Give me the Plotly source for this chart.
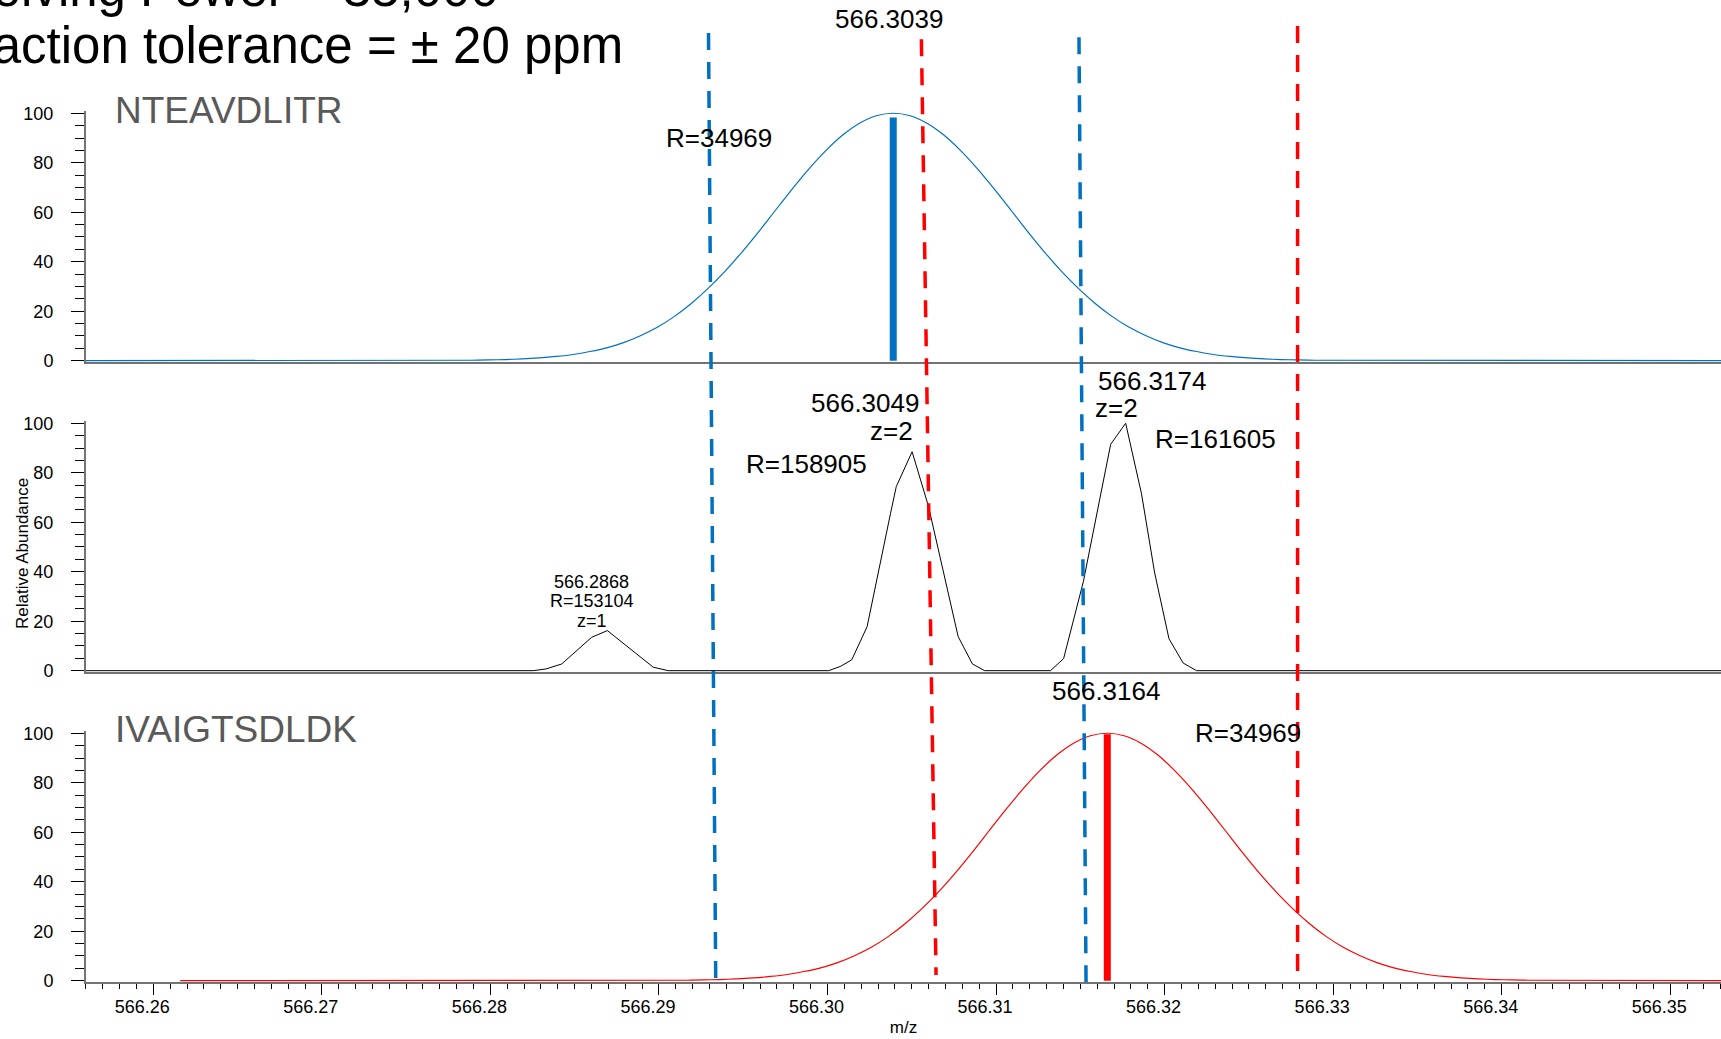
import plotly.graph_objects as go

# ---------------- data ----------------
X_RANGE = [566.256007, 566.353011]
X_TICK0 = 566.26

# Top panel: theoretical profile of NTEAVDLITR (R=34969)
NTE_MZ = [566.2560,
          566.2789, 566.2799, 566.2809, 566.2819, 566.2829, 566.2839, 566.2849, 566.2859,
          566.2869, 566.2879, 566.2889, 566.2899, 566.2909, 566.2919, 566.2929, 566.2939,
          566.2949, 566.2959, 566.2969, 566.2979, 566.2989, 566.2999, 566.3009, 566.3019,
          566.3029, 566.3039, 566.3049, 566.3059, 566.3069, 566.3079, 566.3089, 566.3099,
          566.3109, 566.3119, 566.3129, 566.3139, 566.3149, 566.3159, 566.3169, 566.3179,
          566.3189, 566.3199, 566.3209, 566.3219, 566.3229, 566.3239, 566.3249, 566.3259,
          566.3269, 566.3279, 566.3289,
          566.3540]
NTE_INT = [0,
           0.17, 0.28, 0.45, 0.7, 1.1, 1.7, 2.5, 3.7,
           5.2, 7.3, 10.1, 13.5, 17.8, 23.0, 29.1, 36.0,
           43.7, 52.0, 60.7, 69.3, 77.5, 84.9, 91.2, 96.0,
           99.0, 100, 99.0, 96.0, 91.2, 84.9, 77.5, 69.3,
           60.7, 52.0, 43.7, 36.0, 29.1, 23.0, 17.8, 13.5,
           10.1, 7.3, 5.2, 3.7, 2.5, 1.7, 1.1, 0.7,
           0.45, 0.28, 0.17,
           0]
NTE_CENTROID = 566.3039
NTE_BAR = 98.3

# Middle panel: observed spectrum
OBS_MZ = [566.2560, 566.28255, 566.28330, 566.28423, 566.28601, 566.28694, 566.28966, 566.29055,
          566.30007, 566.30079, 566.30144, 566.30235, 566.30374, 566.30408, 566.30502, 566.30600,
          566.30775, 566.30860, 566.30932,
          566.31323, 566.31401, 566.31518, 566.31680, 566.31769, 566.31863, 566.31941, 566.32026,
          566.32110, 566.32189, 566.3540]
OBS_INT = [0, 0, 0.7, 2.7, 13.5, 16.2, 1.4, 0,
           0, 1.8, 4.4, 17.8, 63.6, 74.4, 88.5, 66.2,
           13.8, 2.7, 0,
           0, 4.9, 36.0, 91.5, 100, 71.5, 39.5, 12.9,
           3.1, 0, 0]

# Bottom panel: theoretical profile of IVAIGTSDLDK (R=34969), as drawn
IVA_MZ = [566.2616,
          566.2916, 566.2926, 566.2936, 566.2946, 566.2956, 566.2966, 566.2976, 566.2986,
          566.2996, 566.3006, 566.3016, 566.3026, 566.3036, 566.3046, 566.3056, 566.3066,
          566.3076, 566.3086, 566.3096, 566.3106, 566.3116, 566.3126, 566.3136, 566.3146,
          566.3156, 566.3166, 566.3176, 566.3186, 566.3196, 566.3206, 566.3216, 566.3226,
          566.3236, 566.3246, 566.3256, 566.3266, 566.3276, 566.3286, 566.3296, 566.3306,
          566.3316, 566.3326, 566.3336, 566.3346, 566.3356, 566.3366, 566.3376, 566.3386,
          566.3396, 566.3406, 566.3416,
          566.3540]
IVA_INT = [0,
           0.17, 0.28, 0.45, 0.7, 1.1, 1.7, 2.5, 3.7,
           5.2, 7.3, 10.1, 13.5, 17.8, 23.0, 29.1, 36.0,
           43.7, 52.0, 60.7, 69.3, 77.5, 84.9, 91.2, 96.0,
           99.0, 100, 99.0, 96.0, 91.2, 84.9, 77.5, 69.3,
           60.7, 52.0, 43.7, 36.0, 29.1, 23.0, 17.8, 13.5,
           10.1, 7.3, 5.2, 3.7, 2.5, 1.7, 1.1, 0.7,
           0.45, 0.28, 0.17,
           0]
IVA_CENTROID = 566.3166
IVA_BAR = 99.6

# +/- 20 ppm extraction windows (hand drawn, slightly slanted): m/z at top and bottom
WINDOW_MZ_TOP = [566.29294, 566.30557, 566.31492, 566.32789]
WINDOW_MZ_BOTTOM = [566.29337, 566.30644, 566.31534, 566.32789]
WINDOW_COLOR_KEY = ["blue", "red", "blue", "red"]

# Labels: (text, m/z, relative abundance, size)
TOP_LABELS = [("566.3039", 566.30365, 138.1, 26), ("R=34969", 566.29356, 90.0, 26)]
MID_LABELS = [("566.3049", 566.30222, 108.2, 26), ("z=2", 566.30377, 96.9, 26),
              ("R=158905", 566.29878, 83.5, 26),
              ("566.3174", 566.31928, 117.1, 26), ("z=2", 566.31712, 106.2, 26),
              ("R=161605", 566.32299, 93.7, 26),
              ("566.2868", 566.28600, 36.0, 18), ("R=153104", 566.28600, 28.0, 18),
              ("z=1", 566.28600, 20.1, 18)]
BOT_LABELS = [("566.3164", 566.31655, 116.9, 26), ("R=34969", 566.32495, 100.0, 26)]

TITLE_LINES = ["Resolving Power = 35,000", "Extraction tolerance = \u00b1 20 ppm"]
PEPTIDES = ["NTEAVDLITR", "IVAIGTSDLDK"]

# ---------------- style ----------------
BLUE = "#0070C0"
RED = "#FF0000"
GREY_TXT = "#595959"
AXIS_GREY = "#737373"
FONT = "Liberation Sans, Arial, sans-serif"
W, H = 1721, 1039
L = 86


def py_to_paper(py):
    return (H - py) / H


def px_to_paper(px):
    return (px - L) / (W - L)


Y_RANGE = [-0.5, 101]
DOMAINS = [[py_to_paper(361.9), py_to_paper(110.8)],
           [py_to_paper(671.9), py_to_paper(420.8)],
           [py_to_paper(981.9), py_to_paper(730.8)]]


def value_to_paper(panel, yv):
    d0, d1 = DOMAINS[panel]
    return d0 + (yv - Y_RANGE[0]) / (Y_RANGE[1] - Y_RANGE[0]) * (d1 - d0)


fig = go.Figure()
fig.add_trace(go.Scatter(x=NTE_MZ, y=NTE_INT, mode="lines",
                         line=dict(color=BLUE, width=1.2, shape="spline", smoothing=0.6),
                         xaxis="x", yaxis="y", hoverinfo="skip"))
fig.add_trace(go.Scatter(x=[NTE_CENTROID, NTE_CENTROID], y=[0, NTE_BAR], mode="lines",
                         line=dict(color=BLUE, width=7), xaxis="x", yaxis="y", hoverinfo="skip"))
fig.add_trace(go.Scatter(x=OBS_MZ, y=OBS_INT, mode="lines",
                         line=dict(color="black", width=1),
                         xaxis="x2", yaxis="y2", hoverinfo="skip"))
fig.add_trace(go.Scatter(x=IVA_MZ, y=IVA_INT, mode="lines",
                         line=dict(color=RED, width=1.2, shape="spline", smoothing=0.6),
                         xaxis="x3", yaxis="y3", hoverinfo="skip"))
fig.add_trace(go.Scatter(x=[IVA_CENTROID, IVA_CENTROID], y=[0, IVA_BAR], mode="lines",
                         line=dict(color=RED, width=7), xaxis="x3", yaxis="y3", hoverinfo="skip"))

common_x = dict(range=X_RANGE, showgrid=False, zeroline=False, showline=True,
                linecolor=AXIS_GREY, linewidth=2, layer="below traces", domain=[0, 1])
common_y = dict(range=Y_RANGE, showgrid=False, zeroline=False, showline=True,
                linecolor=AXIS_GREY, linewidth=2, layer="below traces",
                tick0=0, dtick=20, ticks="outside", ticklen=13, tickcolor="black",
                tickwidth=1.3, tickfont=dict(size=18, color="black"),
                ticklabelstandoff=14,
                minor=dict(dtick=5, ticklen=9, ticks="outside", tickcolor="black", tickwidth=1.1))

shapes = []
window_colors = {"blue": BLUE, "red": RED}
window_tops = [33, 39.3, 37.3, 26]
window_bottoms = [982, 975, 985, 971.7]
for xt, xb, ck, yt, yb in zip(WINDOW_MZ_TOP, WINDOW_MZ_BOTTOM, WINDOW_COLOR_KEY,
                              window_tops, window_bottoms):
    shapes.append(dict(type="line", xref="x3", yref="paper", x0=xt, x1=xb,
                       y0=py_to_paper(yt), y1=py_to_paper(yb),
                       line=dict(color=window_colors[ck], width=3.5, dash="17px,12px")))

annotations = []
for panel, lab in enumerate((TOP_LABELS, MID_LABELS, BOT_LABELS)):
    for txt, mz, yv, size in lab:
        annotations.append(dict(text=txt, x=mz, y=value_to_paper(panel, yv),
                                xref="x", yref="paper", showarrow=False,
                                xanchor="center", yanchor="middle",
                                font=dict(size=size, color="black", family=FONT)))
annotations.append(dict(text=PEPTIDES[0], x=px_to_paper(113), y=value_to_paper(0, 101.3),
                        xref="paper", yref="paper",
                        showarrow=False, xanchor="left", yanchor="middle",
                        font=dict(size=37, color=GREY_TXT, family=FONT)))
annotations.append(dict(text=PEPTIDES[1], x=px_to_paper(113), y=value_to_paper(2, 101.4),
                        xref="paper", yref="paper",
                        showarrow=False, xanchor="left", yanchor="middle",
                        font=dict(size=37, color=GREY_TXT, family=FONT)))
annotations.append(dict(text=TITLE_LINES[0], x=px_to_paper(-100), y=py_to_paper(-11.0),
                        xref="paper", yref="paper", showarrow=False, xanchor="left",
                        yanchor="middle", font=dict(size=51, color="black", family=FONT)))
annotations.append(dict(text=TITLE_LINES[1], x=px_to_paper(-100), y=py_to_paper(45.8),
                        xref="paper", yref="paper", showarrow=False, xanchor="left",
                        yanchor="middle", font=dict(size=51, color="black", family=FONT)))
annotations.append(dict(text="Relative Abundance", x=px_to_paper(22), y=py_to_paper(554),
                        xref="paper", yref="paper", showarrow=False, textangle=-90,
                        xanchor="center", yanchor="middle",
                        font=dict(size=17, color="black", family=FONT)))

fig.update_layout(
    width=W, height=H,
    margin=dict(l=L, r=0, t=0, b=0, autoexpand=False),
    paper_bgcolor="white", plot_bgcolor="white",
    showlegend=False,
    font=dict(family=FONT, color="black"),
    xaxis=dict(**common_x, anchor="y", showticklabels=False, ticks=""),
    xaxis2=dict(**common_x, anchor="y2", matches="x", showticklabels=False, ticks=""),
    xaxis3=dict(**common_x, anchor="y3", matches="x", tick0=X_TICK0, dtick=0.01,
                ticks="outside", ticklen=11, tickcolor="black", tickwidth=1.3,
                tickformat=".2f", tickfont=dict(size=18, color="black"),
                ticklabelshift=-11, ticklabelstandoff=-4,
                minor=dict(dtick=0.001, ticklen=5, ticks="outside", tickcolor="black",
                           tickwidth=1),
                title=dict(text="m/z", font=dict(size=17, color="black"), standoff=6)),
    yaxis=dict(**common_y, domain=DOMAINS[0], anchor="x"),
    yaxis2=dict(**common_y, domain=DOMAINS[1], anchor="x2"),
    yaxis3=dict(**common_y, domain=DOMAINS[2], anchor="x3"),
    shapes=shapes,
    annotations=annotations,
)

fig.write_html("out.html", config={"displayModeBar": False})
